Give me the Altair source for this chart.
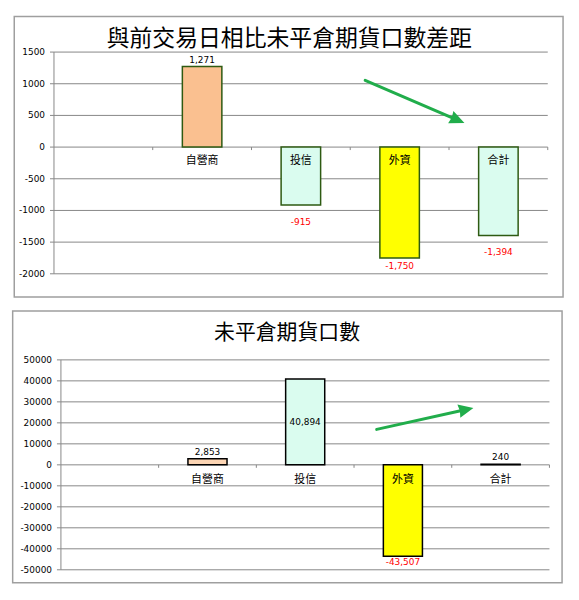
import math
import altair as alt
import pandas as pd

# ---------------- data ----------------
categories = ["自營商", "投信", "外資", "合計"]
diff_values = [1271, -915, -1750, -1394]
oi_values = [2853, 40894, -43507, 240]
diff_ticks = [1500, 1000, 500, 0, -500, -1000, -1500, -2000]
oi_ticks = [50000, 40000, 30000, 20000, 10000, 0, -10000, -20000, -30000, -40000, -50000]
diff_fill = ["#fac090", "#dafcef", "#ffff00", "#dafcef"]
oi_fill = ["#fcd5b4", "#dafcef", "#ffff00", "#dafcef"]
oi_label_inside = [False, True, False, False]
diff_label_inside = [False, False, False, False]
title_diff = "與前交易日相比未平倉期貨口數差距"
title_oi = "未平倉期貨口數"

domain = [" "] + categories

GRID = "#878787"
BOX = "#9f9f9f"
GREEN = "#21ad4b"
CJK = "Noto Sans CJK TC"
NUM = "DejaVu Sans"
P_INNER, P_OUTER = 0.6, 0.3


def panel(title, title_size, title_pos, values, fills, inside, ticks, bar_stroke,
          box, plot, arrow, width, height, cat_dy):
    left, right, top, bottom = plot
    ymin, ymax = ticks[-1], ticks[0]
    k = (bottom - top) / (ymax - ymin)  # px per unit
    step = (right - left) / len(domain)

    yscale = alt.Scale(domain=[ymin, ymax], range=[bottom, top], nice=False, zero=False)
    xscale = alt.Scale(domain=domain, range=[left, right], paddingInner=P_INNER,
                       paddingOuter=P_OUTER)

    anchors, colors = [], []
    for v, ins in zip(values, inside):
        if ins:
            a = v / 2
        elif v >= 0:
            a = min(v + 7 / k, ymax - 7 / k)
        else:
            a = max(v - 17 / k, ymin + 8 / k)
        anchors.append(a)
        colors.append("#000000" if v >= 0 else "#ff0000")

    bars = pd.DataFrame({
        "cat": categories,
        "v": values,
        "zero": [0] * len(categories),
        "fill": fills,
        "anchor": anchors,
        "label": [f"{v:,}" for v in values],
        "tc": colors,
    })
    tdf = pd.DataFrame({"v": ticks, "label": [str(t) for t in ticks]})
    one = pd.DataFrame({"t": [title]})
    cats = pd.DataFrame({"cat": domain, "zero": [0] * len(domain)})

    X = lambda **kw: alt.X("cat:N", scale=xscale, axis=None, **kw)
    Y = lambda f: alt.Y(f, scale=yscale, axis=None)

    border = alt.Chart(one).mark_rect(fillOpacity=0, stroke=BOX, strokeWidth=1.5).encode(
        x=alt.value(box[0]), x2=alt.value(box[2]), y=alt.value(box[1]), y2=alt.value(box[3]))

    grid = alt.Chart(tdf).mark_rule(color=GRID, strokeWidth=1).encode(
        y=Y("v:Q"), x=alt.value(left), x2=alt.value(right))
    yticks = alt.Chart(tdf).mark_rule(color=GRID, strokeWidth=1).encode(
        y=Y("v:Q"), x=alt.value(left - 4), x2=alt.value(left))
    ylabels = alt.Chart(tdf).mark_text(align="right", baseline="middle", font=NUM,
                                       fontSize=9, color="#000000").encode(
        y=Y("v:Q"), x=alt.value(left - 9), text="label:N")
    yaxis = alt.Chart(one).mark_rule(color=GRID, strokeWidth=1).encode(
        x=alt.value(left), y=alt.value(top), y2=alt.value(bottom))

    # category boundary ticks: end of each band + half the inner padding
    xticks = alt.Chart(cats).mark_rule(color=GRID, strokeWidth=1, y2Offset=3,
                                       xOffset=step * P_INNER / 2).encode(
        x=X(bandPosition=1), y=Y("zero:Q"), y2="zero:Q")

    barmark = alt.Chart(bars).mark_bar(strokeWidth=1.5, stroke=bar_stroke).encode(
        x=X(), y=Y("v:Q"), y2="zero:Q", fill=alt.Fill("fill:N", scale=None))

    catlabels = alt.Chart(bars).mark_text(font=CJK, fontSize=11, baseline="middle",
                                          dy=cat_dy, color="#000000").encode(
        x=X(), y=Y("zero:Q"), text="cat:N")

    vlabels = alt.Chart(bars).mark_text(font=NUM, fontSize=9, baseline="middle").encode(
        x=X(), y=Y("anchor:Q"), text="label:N", color=alt.Color("tc:N", scale=None))

    ttl = alt.Chart(one).mark_text(font=CJK, fontSize=title_size, baseline="middle",
                                   align="center", color="#000000").encode(
        x=alt.value(title_pos[0]), y=alt.value(title_pos[1]), text="t:N")

    (sx, sy), (tx, ty) = arrow
    L = math.hypot(tx - sx, ty - sy)
    ux, uy = (tx - sx) / L, (ty - sy) / L
    ang = math.degrees(math.atan2(uy, ux)) % 360
    head = 15
    line = alt.Chart(one).mark_rule(color=GREEN, strokeWidth=3, strokeCap="round").encode(
        x=alt.value(sx), y=alt.value(sy),
        x2=alt.value(tx - ux * (head - 3)), y2=alt.value(ty - uy * (head - 3)))
    tip = alt.Chart(one).mark_point(shape="M1,0L-1,-0.9L-0.85,0L-1,0.9Z", filled=True,
                                    size=head * head, angle=ang, color=GREEN, opacity=1,
                                    strokeWidth=0).encode(
        x=alt.value(tx - ux * head / 2), y=alt.value(ty - uy * head / 2))

    return alt.layer(border, grid, yticks, yaxis, ylabels, barmark, xticks, catlabels,
                     vlabels, ttl, line, tip).properties(width=width, height=height)


top = panel(title_diff, 23, (282.3, 28), diff_values, diff_fill, diff_label_inside,
            diff_ticks, "#2e5a12",
            box=(5.3, 5.5, 558, 288), plot=(45.3, 542.6, 41.3, 264.6),
            arrow=((358.7, 69.7), (458.7, 112.7)), width=565, height=292, cat_dy=14)

bottom = panel(title_oi, 21, (280, 30.5), oi_values, oi_fill, oi_label_inside,
               oi_ticks, "#000000",
               box=(3.7, 8, 557, 281.7), plot=(52.3, 544.3, 57.3, 268.7),
               arrow=((370.3, 127.3), (467.7, 105.7)), width=565, height=290, cat_dy=15)

chart = alt.vconcat(top, bottom, spacing=0).properties(padding=0).configure_view(
    stroke="transparent")

chart.save("out.html", embed_options={"renderer": "svg", "actions": False})
